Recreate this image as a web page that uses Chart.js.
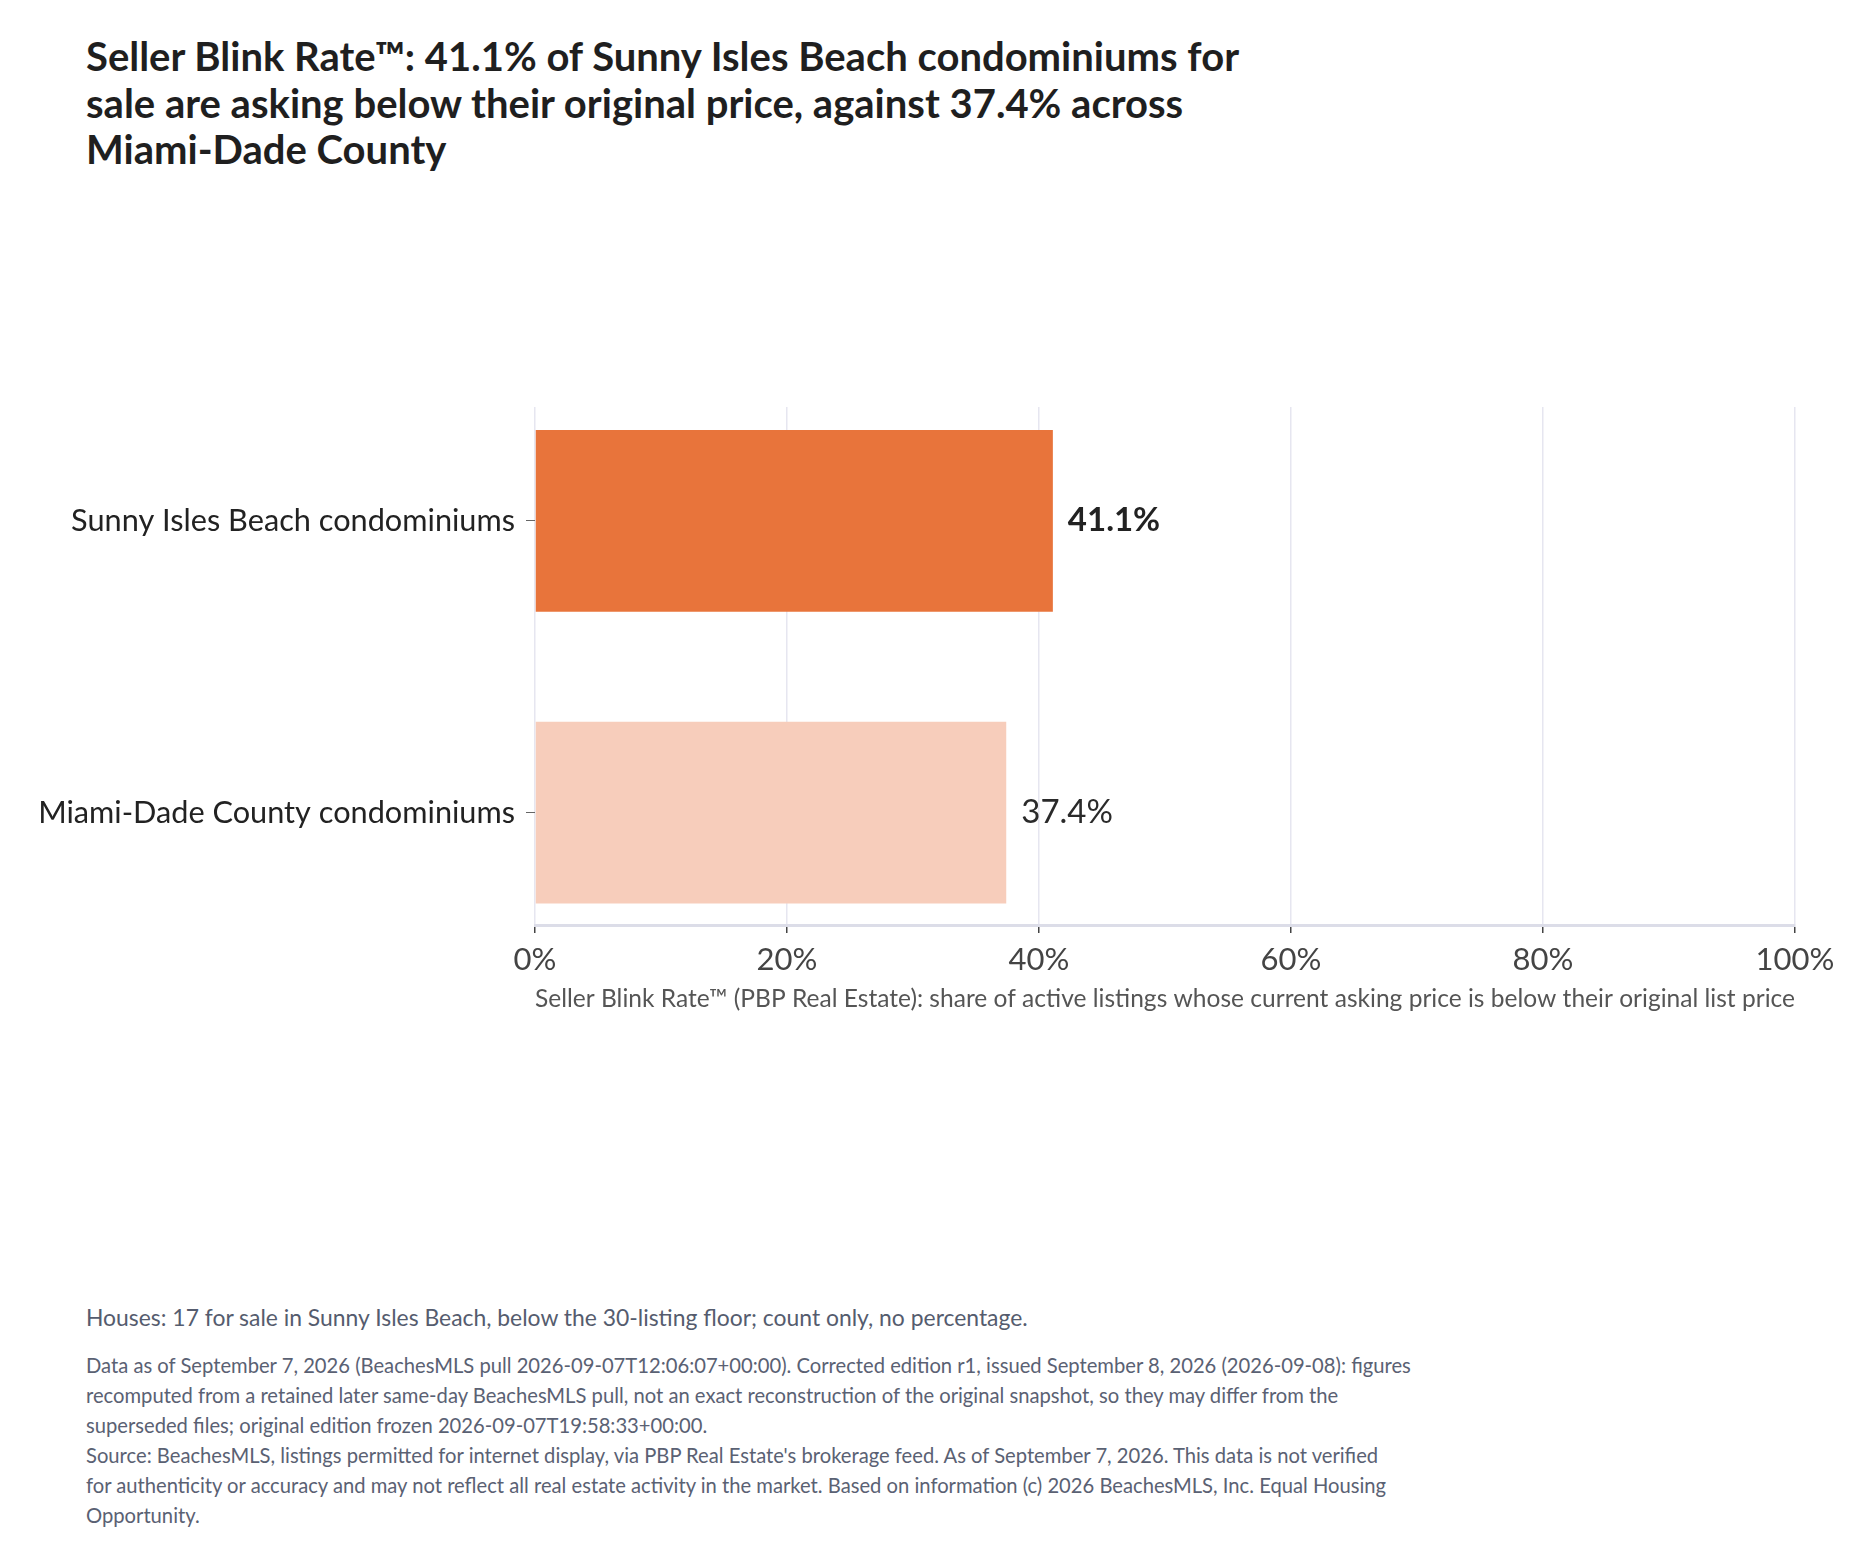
<!DOCTYPE html>
<html>
<head>
<meta charset="utf-8">
<script src="https://cdn.jsdelivr.net/npm/chart.js@4.4.1/dist/chart.umd.min.js"></script>
<style>
  body { margin: 0; background: #fff; font-family: Lato, "Open Sans", sans-serif; }
  #page { position: relative; width: 1870px; height: 1566px; }
  #title {
    position: absolute; left: 86px; top: 33px;
    font-size: 40px; font-weight: 700; line-height: 46.5px; color: #1f1f1f;
    white-space: nowrap;
  }
  #chartBox { position: absolute; left: 0; top: 370px; width: 1870px; height: 680px; }
  #houses {
    position: absolute; left: 86px; top: 1303px;
    font-size: 22.9px; color: #555c6e; white-space: nowrap;
  }
  #notes {
    position: absolute; left: 86px; top: 1350px;
    font-size: 20.2px; line-height: 30px; color: #5a6173; white-space: nowrap;
  }
</style>
</head>
<body>
<div id="page">
  <div id="title">Seller Blink Rate™: 41.1% of Sunny Isles Beach condominiums for<br>sale are asking below their original price, against 37.4% across<br>Miami-Dade County</div>
  <div id="chartBox"><canvas id="blinkChart"></canvas></div>
  <div id="houses">Houses: 17 for sale in Sunny Isles Beach, below the 30-listing floor; count only, no percentage.</div>
  <div id="notes">Data as of September 7, 2026 (BeachesMLS pull 2026-09-07T12:06:07+00:00). Corrected edition r1, issued September 8, 2026 (2026-09-08): figures<br>recomputed from a retained later same-day BeachesMLS pull, not an exact reconstruction of the original snapshot, so they may differ from the<br>superseded files; original edition frozen 2026-09-07T19:58:33+00:00.<br>Source: BeachesMLS, listings permitted for internet display, via PBP Real Estate's brokerage feed. As of September 7, 2026. This data is not verified<br>for authenticity or accuracy and may not reflect all real estate activity in the market. Based on information (c) 2026 BeachesMLS, Inc. Equal Housing<br>Opportunity.</div>
</div>
<script>
// Seller Blink Rate bars: Sunny Isles vs Miami-Dade

const categories = ["Sunny Isles Beach condominiums", "Miami-Dade County condominiums"];
const blinkRates = [41.1, 37.4];
const barColors = ["#E8743B", "#F7CDBB"];
const xTicks = [0, 20, 40, 60, 80, 100];

const axisTitle =
  "Seller Blink Rate™ (PBP Real Estate): share of active listings whose current asking price is below their original list price";

// bars sit on a numeric axis (0, 1, ...) so the range can leave room round them
const barPoints = blinkRates.map((v, i) => ({ x: v, y: i }));

// value labels at the end of each bar, first one in bold
const valueLabels = {
  id: "valueLabels",
  afterDatasetsDraw(chart) {
    const ctx = chart.ctx;
    const meta = chart.getDatasetMeta(0);
    ctx.save();
    ctx.textBaseline = "middle";
    ctx.textAlign = "left";
    meta.data.forEach((bar, i) => {
      ctx.font = (i === 0 ? "bold " : "") + "33px Lato";
      ctx.fillStyle = i === 0 ? "#222" : "#2a2a2a";
      ctx.fillText(blinkRates[i].toFixed(1) + "%", bar.x + 15, bar.y);
    });
    ctx.restore();
  },
};

const ctx = document.getElementById("blinkChart").getContext("2d");

new Chart(ctx, {
  type: "bar",
  data: {
    datasets: [
      {
        data: barPoints,
        backgroundColor: barColors,
        borderWidth: 0,
        categoryPercentage: 1,
        barPercentage: 0.623,
      },
    ],
  },
  options: {
    indexAxis: "y",
    responsive: true,
    maintainAspectRatio: false,
    animation: false,
    layout: { padding: { top: 37, right: 75, bottom: 36.5, left: 0 } },
    plugins: {
      legend: { display: false },
      tooltip: { enabled: false },
    },
    scales: {
      x: {
        type: "linear",
        min: 0,
        max: 100,
        afterBuildTicks: (axis) => {
          axis.ticks = xTicks.map((v) => ({ value: v }));
        },
        afterFit: (axis) => {
          axis.height = 88.5;
        },
        grid: {
          color: "#e6e6f0",
          lineWidth: 1.5,
          tickColor: "#444",
          tickLength: 8,
        },
        border: { color: "#dcdde8", width: 3 },
        ticks: {
          color: "#444",
          padding: 8,
          font: { family: "Lato", size: 31 },
          callback: (v) => v + "%",
        },
        title: {
          display: true,
          text: axisTitle,
          color: "#555",
          padding: 0,
          font: { family: "Lato", size: 25.2 },
        },
      },
      y: {
        type: "linear",
        reverse: true,
        offset: false,
        min: -0.39,
        max: 1.385,
        afterBuildTicks: (axis) => {
          axis.ticks = categories.map((c, i) => ({ value: i }));
        },
        afterFit: (axis) => {
          axis.width = 535;
        },
        grid: {
          offset: false,
          drawOnChartArea: false,
          tickColor: "#666",
          tickLength: 9,
        },
        border: { display: false },
        ticks: {
          color: "#222",
          padding: 11,
          font: { family: "Lato", size: 30.7 },
          callback: (v) => categories[v],
        },
      },
    },
  },
  plugins: [valueLabels],
});
</script>
</body>
</html>
